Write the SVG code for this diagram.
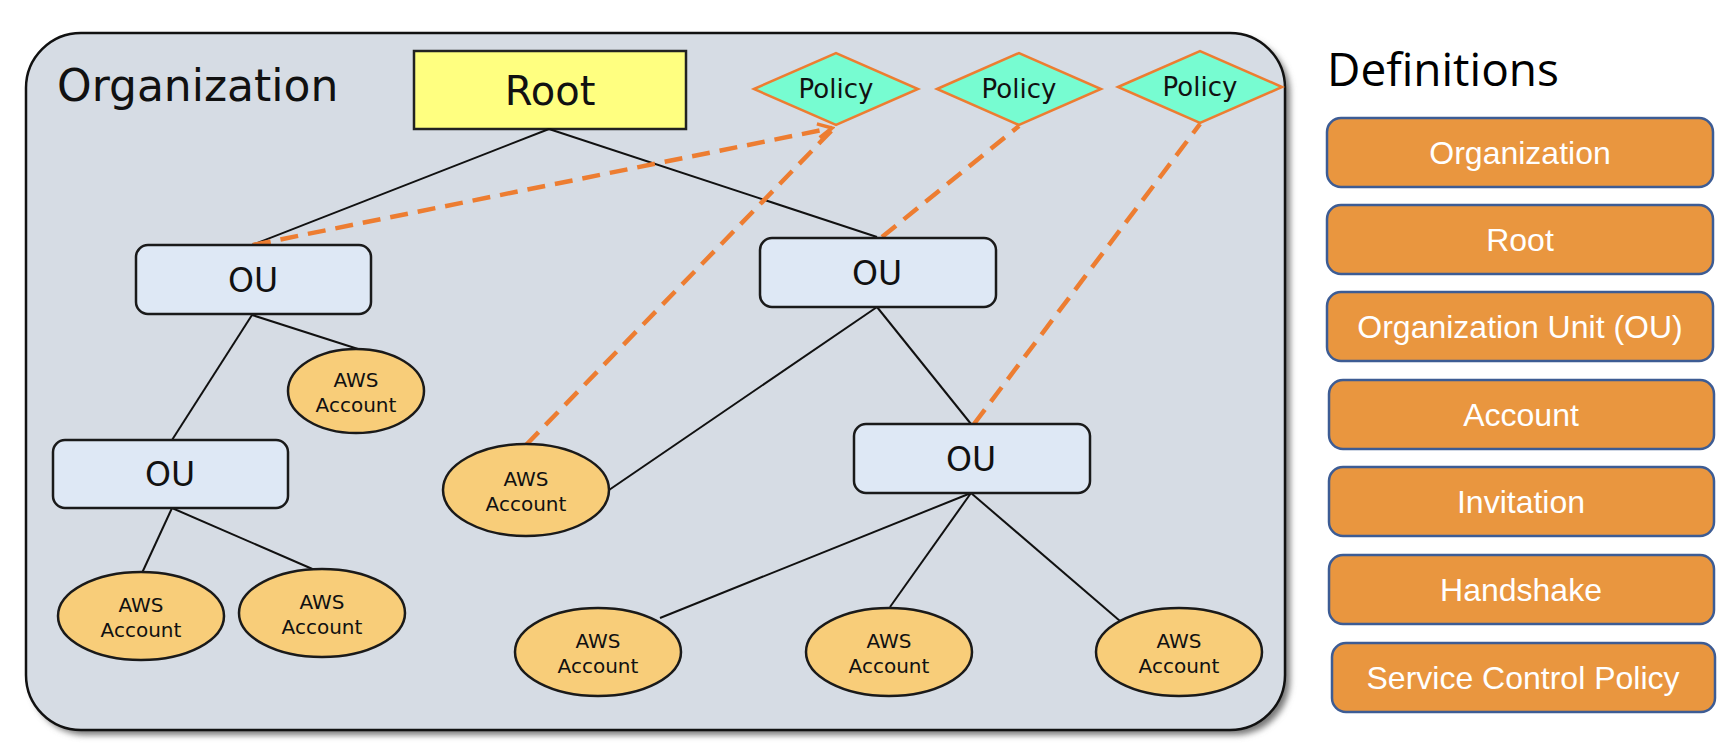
<svg xmlns="http://www.w3.org/2000/svg" width="1722" height="746" viewBox="0 0 1722 746">
<style>
.org{fill:#d6dce4;stroke:#111;stroke-width:2.5}
.t{font-family:"DejaVu Sans",sans-serif;fill:#111;text-anchor:middle}
.ou{fill:#dee8f5;stroke:#1a1a1a;stroke-width:2.5}
.acc{fill:#f8cd79;stroke:#1a1a1a;stroke-width:2.5}
.pol{fill:#77fcd1;stroke:#ed7d31;stroke-width:2.5}
.ln{stroke:#111;stroke-width:2;fill:none}
.dl{stroke:#ed7d31;stroke-width:4.5;stroke-dasharray:18 10;fill:none}
.def{fill:#e9963f;stroke:#3d5c94;stroke-width:2.5}
.dt{font-family:"Liberation Sans",Arial,sans-serif;font-size:32px;fill:#fff;text-anchor:middle}
</style>
<defs>
<filter id="sh" x="-5%" y="-5%" width="110%" height="110%">
<feGaussianBlur stdDeviation="3"/>
</filter>
<marker id="arr" markerWidth="20" markerHeight="20" refX="17" refY="10" orient="auto" markerUnits="userSpaceOnUse">
<path d="M3,3 L17,10 L3,17" fill="none" stroke="#ed7d31" stroke-width="3.5" stroke-linejoin="miter"/>
</marker>
</defs>
<rect width="1722" height="746" fill="#fff"/>
<g id="organization">
<rect x="31" y="38" width="1259" height="697" rx="55" fill="#777" filter="url(#sh)"/>
<rect class="org" x="26" y="33" width="1259" height="697" rx="55"/>
<text x="57" y="101" style="font-family:'DejaVu Sans',sans-serif;font-size:44px;fill:#111">Organization</text>
</g>
<g id="root">
<rect x="414" y="51" width="272" height="78" fill="#ffff80" stroke="#222" stroke-width="2.5"/>
<text class="t" x="550" y="105" font-size="40">Root</text>
</g>
<g id="policy1">
<polygon class="pol" points="754,89 836,53 918,89 836,125"/>
<text class="t" x="836" y="98" font-size="26">Policy</text>
</g>
<g id="policy2">
<polygon class="pol" points="937,89 1019,53 1101,89 1019,125"/>
<text class="t" x="1019" y="98" font-size="26">Policy</text>
</g>
<g id="policy3">
<polygon class="pol" points="1118,87 1200,51 1282,87 1200,123"/>
<text class="t" x="1200" y="96" font-size="26">Policy</text>
</g>
<g id="connectors">
<line class="ln" x1="549" y1="129" x2="252" y2="245"/>
<line class="ln" x1="549" y1="129" x2="877" y2="237"/>
<line class="ln" x1="252" y1="315" x2="358" y2="349"/>
<line class="ln" x1="252" y1="315" x2="172" y2="440"/>
<line class="ln" x1="172" y1="508" x2="142" y2="573"/>
<line class="ln" x1="172" y1="508" x2="317" y2="571"/>
<line class="ln" x1="877" y1="307" x2="609" y2="490"/>
<line class="ln" x1="877" y1="307" x2="971" y2="424"/>
<line class="ln" x1="971" y1="493" x2="660" y2="618"/>
<line class="ln" x1="971" y1="493" x2="890" y2="607"/>
<line class="ln" x1="971" y1="493" x2="1120" y2="621"/>
<path class="dl" d="M253,245 L832,128" marker-end="url(#arr)"/>
<path class="dl" d="M526,445 L836,126"/>
<path class="dl" d="M882,237 L1019,126"/>
<path class="dl" d="M974,424 L1200,124"/>
</g>
<g id="ou1">
<rect class="ou" x="136" y="245" width="235" height="69" rx="12"/>
<text class="t" x="253" y="292" font-size="33">OU</text>
</g>
<g id="ou2">
<rect class="ou" x="760" y="238" width="236" height="69" rx="12"/>
<text class="t" x="877" y="285" font-size="33">OU</text>
</g>
<g id="ou3">
<rect class="ou" x="53" y="440" width="235" height="68" rx="12"/>
<text class="t" x="170" y="486" font-size="33">OU</text>
</g>
<g id="ou4">
<rect class="ou" x="854" y="424" width="236" height="69" rx="12"/>
<text class="t" x="971" y="471" font-size="33">OU</text>
</g>
<g id="acc1">
<ellipse class="acc" cx="356" cy="391" rx="68" ry="42"/>
<text class="t" x="356" y="387" font-size="20">AWS</text>
<text class="t" x="356" y="412" font-size="20">Account</text>
</g>
<g id="acc2">
<ellipse class="acc" cx="526" cy="490" rx="83" ry="46"/>
<text class="t" x="526" y="486" font-size="20">AWS</text>
<text class="t" x="526" y="511" font-size="20">Account</text>
</g>
<g id="acc3">
<ellipse class="acc" cx="141" cy="616" rx="83" ry="44"/>
<text class="t" x="141" y="612" font-size="20">AWS</text>
<text class="t" x="141" y="637" font-size="20">Account</text>
</g>
<g id="acc4">
<ellipse class="acc" cx="322" cy="613" rx="83" ry="44"/>
<text class="t" x="322" y="609" font-size="20">AWS</text>
<text class="t" x="322" y="634" font-size="20">Account</text>
</g>
<g id="acc5">
<ellipse class="acc" cx="598" cy="652" rx="83" ry="44"/>
<text class="t" x="598" y="648" font-size="20">AWS</text>
<text class="t" x="598" y="673" font-size="20">Account</text>
</g>
<g id="acc6">
<ellipse class="acc" cx="889" cy="652" rx="83" ry="44"/>
<text class="t" x="889" y="648" font-size="20">AWS</text>
<text class="t" x="889" y="673" font-size="20">Account</text>
</g>
<g id="acc7">
<ellipse class="acc" cx="1179" cy="652" rx="83" ry="44"/>
<text class="t" x="1179" y="648" font-size="20">AWS</text>
<text class="t" x="1179" y="673" font-size="20">Account</text>
</g>
<g id="definitions">
<text x="1327" y="86" style="font-family:'Open Sans',sans-serif;font-size:46px;fill:#000">Definitions</text>
</g>
<g id="def-organization">
<rect class="def" x="1327" y="118" width="386" height="69" rx="14"/>
<text class="dt" x="1520" y="164">Organization</text>
</g>
<g id="def-root">
<rect class="def" x="1327" y="205" width="386" height="69" rx="14"/>
<text class="dt" x="1520" y="251">Root</text>
</g>
<g id="def-ou">
<rect class="def" x="1327" y="292" width="386" height="69" rx="14"/>
<text class="dt" x="1520" y="338">Organization Unit (OU)</text>
</g>
<g id="def-account">
<rect class="def" x="1329" y="380" width="385" height="69" rx="14"/>
<text class="dt" x="1521" y="426">Account</text>
</g>
<g id="def-invitation">
<rect class="def" x="1329" y="467" width="385" height="69" rx="14"/>
<text class="dt" x="1521" y="513">Invitation</text>
</g>
<g id="def-handshake">
<rect class="def" x="1329" y="555" width="385" height="69" rx="14"/>
<text class="dt" x="1521" y="601">Handshake</text>
</g>
<g id="def-scp">
<rect class="def" x="1332" y="643" width="383" height="69" rx="14"/>
<text class="dt" x="1523" y="689">Service Control Policy</text>
</g>
</svg>
